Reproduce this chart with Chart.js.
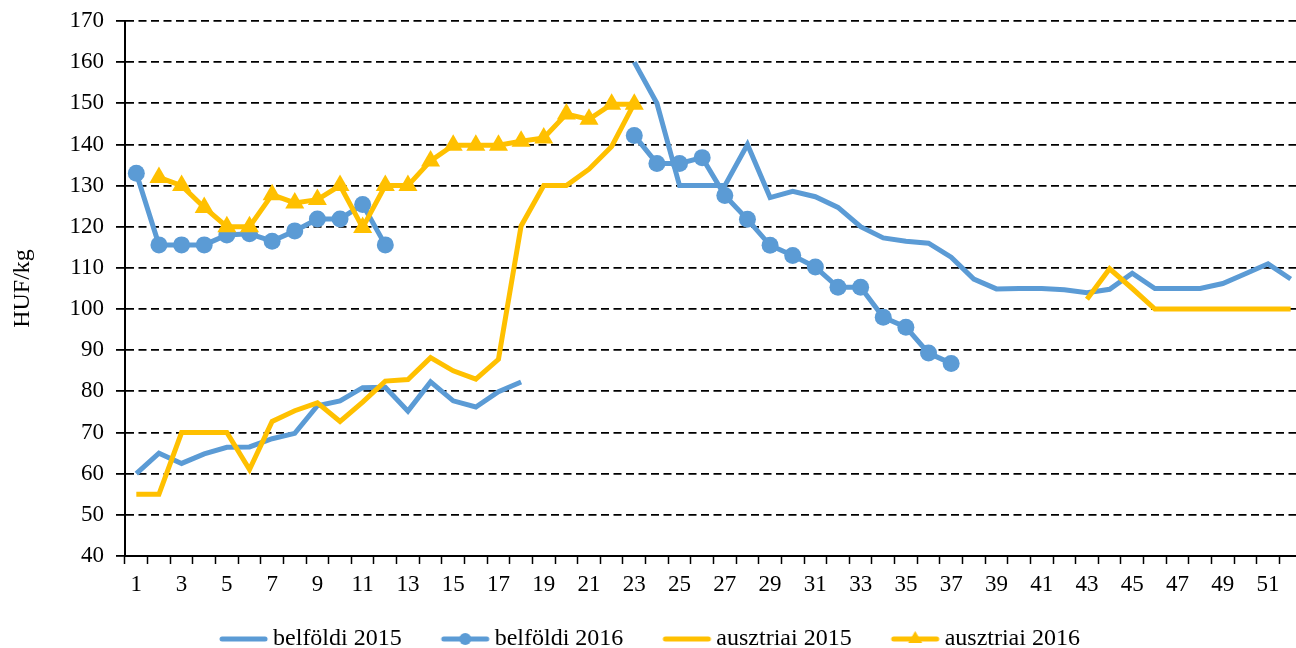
<!DOCTYPE html>
<html>
<head>
<meta charset="utf-8">
<script src="https://cdn.jsdelivr.net/npm/chart.js@4/dist/chart.umd.min.js"></script>
<style>
  html, body { margin: 0; padding: 0; background: #fff; overflow: hidden; }
  /* the original plot runs a little past the right edge of the picture */
  #wrap { width: 1313px; height: 648px; }
</style>
</head>
<body>
<div id="wrap"><canvas id="priceChart"></canvas></div>
<script>
// weeks of the year
const weeks = [1, 2, 3, 4, 5, 6, 7, 8, 9, 10, 11, 12, 13, 14, 15, 16, 17, 18, 19, 20, 21, 22, 23, 24, 25, 26,
    27, 28, 29, 30, 31, 32, 33, 34, 35, 36, 37, 38, 39, 40, 41, 42, 43, 44, 45, 46, 47, 48, 49, 50, 51, 52]

const belfoldi2015 = [60, 65, 62.5, 64.8, 66.4, 66.5, 68.5, 69.8, 76.5, 77.7, 80.9, 81, 75.2, 82.3, 77.7, 76.2,
    79.9, 82.3, null, null, null, null, 160, 150, 130, 130, 130, 140, 127.1, 128.6, 127.3, 124.7, 120, 117.3,
    116.5, 116, 112.6, 107.3, 104.9, 105, 105, 104.7, 104, 104.8, 108.7, 105, 105, 105, 106.2, 108.6, 111, 107.3]

const belfoldi2016 = [133, 115.6, 115.6, 115.6, 118, 118.3, 116.5, 119, 121.9, 121.9, 125.4, 115.6, null, null,
    null, null, null, null, null, null, null, null, 142.2, 135.4, 135.4, 136.8, 127.6, 121.8, 115.5, 113, 110.2,
    105.3, 105.3, 98, 95.6, 89.3, 86.8, null, null, null, null, null, null, null, null, null, null, null, null,
    null, null, null]

const ausztriai2015 = [55, 55, 70, 70, 70, 61, 72.7, 75.3, 77.2, 72.7, 77.4, 82.5, 82.9, 88.2, 85, 83, 87.8,
    120.2, 130, 130, 134, 139.5, 150, null, null, null, null, null, null, null, null, null, null, null, null,
    null, null, null, null, null, null, null, 102.4, 109.8, 105, 100, 100, 100, 100, 100, 100, 100]

const ausztriai2016 = [null, 132, 130, 124.7, 120, 120, 127.8, 125.8, 126.6, 130, 119.8, 130, 130, 136, 139.8,
    139.8, 139.8, 140.8, 141.6, 147.4, 146.1, 149.8, 149.8, null, null, null, null, null, null, null, null, null,
    null, null, null, null, null, null, null, null, null, null, null, null, null, null, null, null, null, null,
    null, null]

const BLUE = '#5B9BD5'
const YELLOW = '#FFC000'
const FONT = '"Liberation Serif", "Times New Roman", serif'

// legend symbols: line with optional marker, like in Excel
// the canvas is wider than the box so the line sits right before the text
const makeIcon = (color, marker) => {
    const c = document.createElement('canvas')
    c.width = 76
    c.height = 24
    const ctx = c.getContext('2d')
    ctx.strokeStyle = color
    ctx.fillStyle = color
    ctx.lineWidth = 5
    ctx.lineCap = 'round'
    ctx.beginPath()
    ctx.moveTo(28, 12)
    ctx.lineTo(71, 12)
    ctx.stroke()
    if (marker === 'circle') {
        ctx.beginPath()
        ctx.arc(49.5, 12, 6, 0, Math.PI * 2)
        ctx.fill()
    } else if (marker === 'triangle') {
        ctx.beginPath()
        ctx.moveTo(49.5, 4)
        ctx.lineTo(56.5, 16)
        ctx.lineTo(42.5, 16)
        ctx.closePath()
        ctx.fill()
    }
    return c
}

const icons = [
    makeIcon(BLUE),
    makeIcon(BLUE, 'circle'),
    makeIcon(YELLOW),
    makeIcon(YELLOW, 'triangle')
]

const lineSet = (label, data, color, order, marker) => ({
    label,
    data,
    order,
    borderColor: color,
    backgroundColor: color,
    borderWidth: 5,
    tension: 0,
    spanGaps: false,
    pointStyle: marker || 'circle',
    pointRadius: marker ? (marker === 'triangle' ? 11 : 8.5) : 0,
    pointHoverRadius: marker ? 8 : 0,
    pointBorderWidth: 0,
    pointBackgroundColor: color
})

// keep the legend centred on the visible part of the page
const legendShift = {
    id: 'legendShift',
    afterLayout: (chart) => {
        chart.legend.left -= 15
        chart.legend.right -= 15
    }
}

const el = document.getElementById('priceChart')

new Chart(el, {
    type: 'line',
    data: {
        labels: weeks,
        datasets: [
            lineSet('belföldi 2015', belfoldi2015, BLUE, 4),
            lineSet('belföldi 2016', belfoldi2016, BLUE, 3, 'circle'),
            lineSet('ausztriai 2015', ausztriai2015, YELLOW, 2),
            lineSet('ausztriai 2016', ausztriai2016, YELLOW, 1, 'triangle')
        ]
    },
    plugins: [legendShift],
    options: {
        responsive: true,
        maintainAspectRatio: false,
        animation: false,
        layout: {
            padding: { top: 21, right: 0, bottom: -13, left: 0 }
        },
        scales: {
            x: {
                offset: true,
                grid: {
                    offset: true,
                    drawOnChartArea: false,
                    drawTicks: true,
                    tickLength: 8,
                    tickColor: '#000',
                    tickWidth: 1.5
                },
                border: { color: '#000', width: 2 },
                ticks: {
                    autoSkip: false,
                    maxRotation: 0,
                    color: '#000',
                    padding: 7,
                    font: { family: FONT, size: 23 },
                    callback: function (value, index) {
                        return index % 2 === 0 ? this.getLabelForValue(value) : ''
                    }
                },
                afterFit: (scale) => {
                    scale.height = 48
                    scale.paddingLeft = 0
                    scale.paddingRight = 0
                }
            },
            y: {
                min: 40,
                max: 170,
                ticks: {
                    stepSize: 10,
                    color: '#000',
                    padding: 12,
                    font: { family: FONT, size: 23 }
                },
                grid: {
                    color: (ctx) => (ctx.tick && ctx.tick.value === 40 ? 'rgba(0,0,0,0)' : '#000'),
                    lineWidth: 1.8,
                    tickLength: 9,
                    tickColor: '#000',
                    tickWidth: 1.8
                },
                border: { color: '#000', width: 2, dash: [8, 4.5] },
                title: {
                    display: true,
                    text: 'HUF/kg',
                    color: '#000',
                    font: { family: FONT, size: 24 },
                    padding: { top: 8, bottom: 0 }
                },
                afterFit: (scale) => {
                    scale.width = 125
                    scale.paddingTop = 0
                    scale.paddingBottom = 0
                }
            }
        },
        plugins: {
            tooltip: { enabled: false },
            legend: {
                position: 'bottom',
                labels: {
                    usePointStyle: true,
                    pointStyleWidth: 58,
                    padding: 23,
                    color: '#000',
                    font: { family: FONT, size: 24 },
                    generateLabels: (chart) =>
                        Chart.defaults.plugins.legend.labels
                            .generateLabels(chart)
                            .sort((a, b) => a.datasetIndex - b.datasetIndex)
                            .map((item) => ({ ...item, pointStyle: icons[item.datasetIndex] }))
                }
            }
        }
    }
})
</script>
</body>
</html>
